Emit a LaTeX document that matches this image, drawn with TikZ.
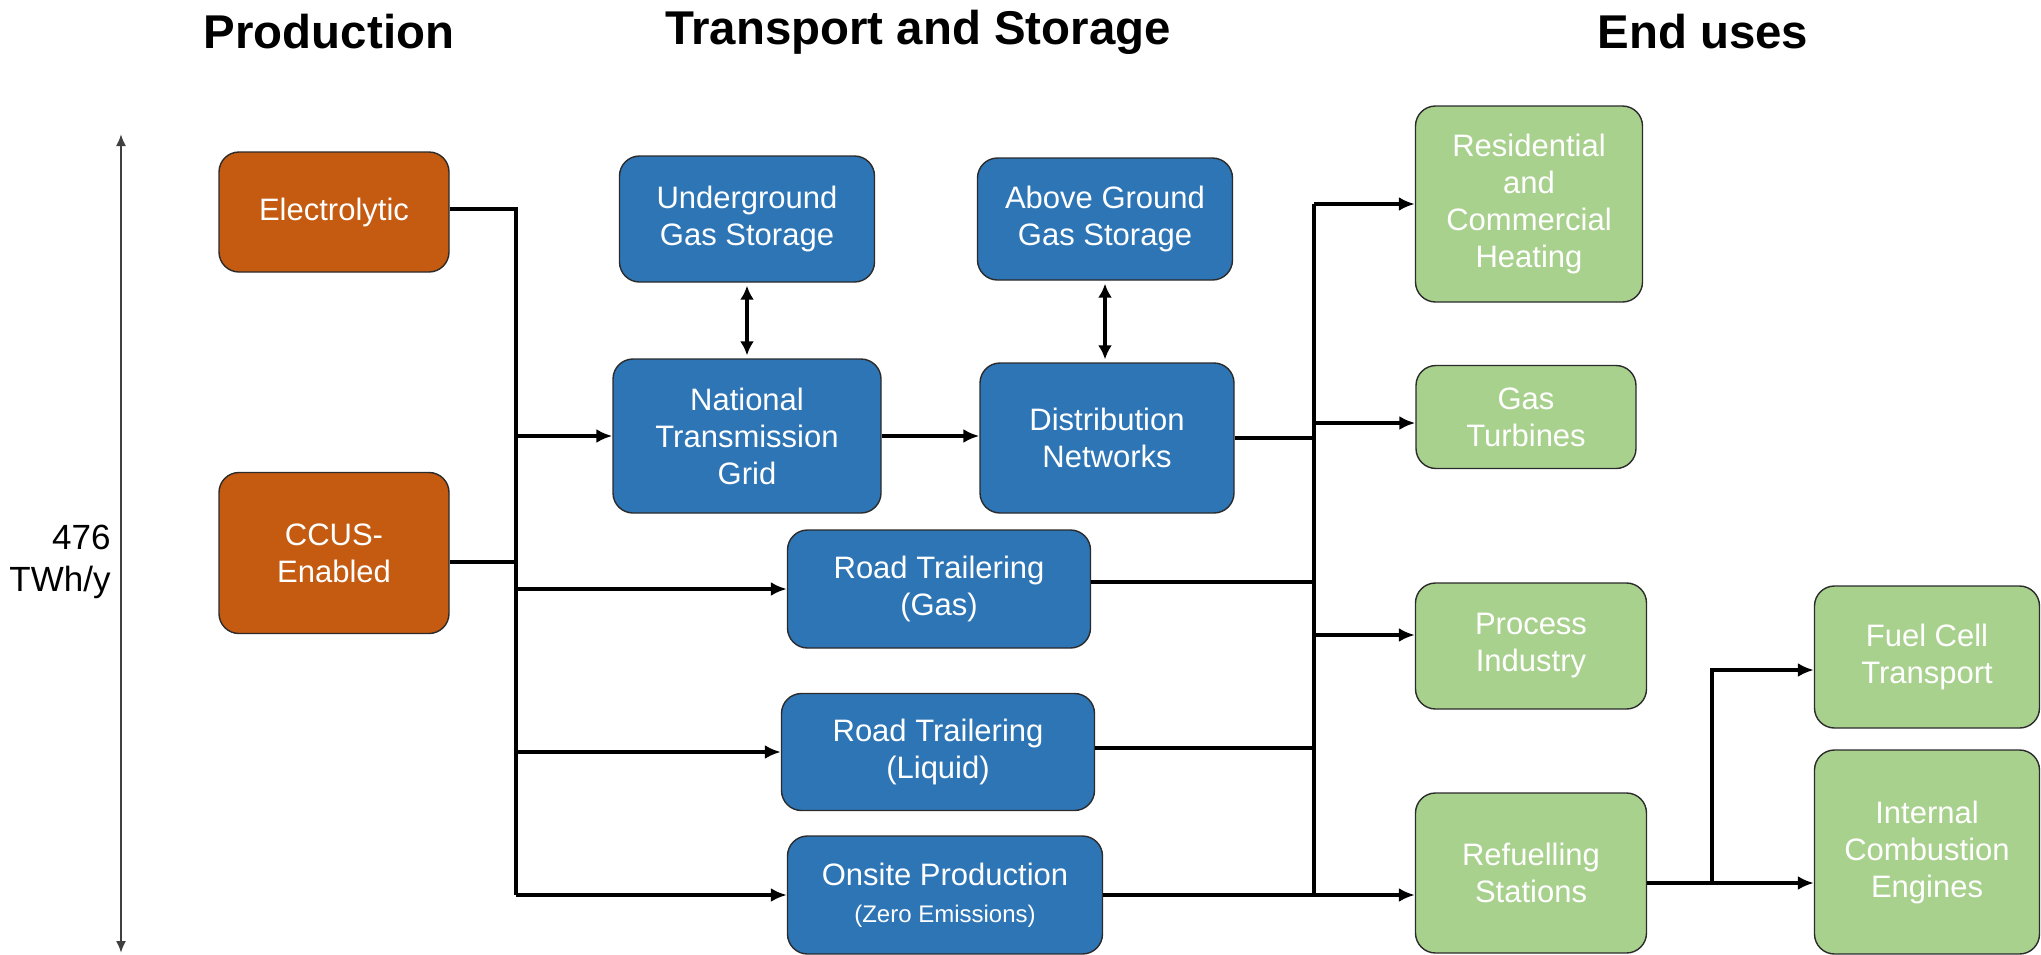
\documentclass[tikz,border=0pt]{standalone}
\usepackage{fontspec}
\setmainfont{Liberation Sans}
\usetikzlibrary{arrows.meta}

\definecolor{prodorange}{HTML}{C55A11}
\definecolor{netblue}{HTML}{2E75B6}
\definecolor{usegreen}{HTML}{A9D18E}
\definecolor{boxline}{HTML}{2B2B2B}

\begin{document}
\begin{tikzpicture}[x=0.5pt, y=-0.5pt,
      basebox/.style={rectangle, rounded corners=10pt, draw=boxline, line width=0.7pt,
        text=white, align=center, inner sep=0pt, font=\fontsize{15.5}{18.5}\selectfont},
      orangebox/.style={basebox, fill=prodorange},
      bluebox/.style={basebox, fill=netblue},
      greenbox/.style={basebox, fill=usegreen},
      heading/.style={font=\fontsize{23.7}{28}\selectfont\bfseries},
      pipe/.style={line width=1.9pt, black},
      flow/.style={pipe, -{Latex[length=8pt,width=7pt]}},
      twoway/.style={pipe, {Latex[length=7pt,width=7pt]}-{Latex[length=7pt,width=7pt]}, shorten >=1.5pt, shorten <=1.5pt}]

    \useasboundingbox (0,0) rectangle (2041,954);

    \node[heading] (hprod) at (329,32) {Production};
    \node[heading] (htrans) at (918,32) {Transport and Storage};
    \node[heading] (huse) at (1703,32) {End uses};

    \coordinate (axtop) at (121,134);
    \coordinate (axbot) at (121,953);
    \draw[line width=1pt, black!75, {Latex[length=6pt,width=5pt]}-{Latex[length=6pt,width=5pt]}] (axtop) -- (axbot);
    \node[anchor=east, align=right, inner sep=0pt, font=\fontsize{17.5}{21}\selectfont] (total) at (111,562) {476\\TWh/y};

    \node[orangebox, minimum width=115pt, minimum height=60pt] (elec) at (334,212) {Electrolytic};
    \node[orangebox, minimum width=115pt, minimum height=80.5pt] (ccus) at (334,553) {CCUS-\\Enabled};

    \node[bluebox, minimum width=127.5pt, minimum height=63pt] (ugs) at (747,219) {Underground\\Gas Storage};
    \node[bluebox, minimum width=127.5pt, minimum height=61pt] (ags) at (1105,219) {Above Ground\\Gas Storage};
    \node[bluebox, minimum width=134pt, minimum height=77pt] (ntg) at (747,436) {National\\Transmission\\Grid};
    \node[bluebox, minimum width=127pt, minimum height=75pt] (dn) at (1107,438) {Distribution\\Networks};
    \node[bluebox, minimum width=151.5pt, minimum height=59pt] (rtg) at (939,589) {Road Trailering\\(Gas)};
    \node[bluebox, minimum width=156.5pt, minimum height=58.5pt] (rtl) at (938,752) {Road Trailering\\(Liquid)};
    \node[bluebox, minimum width=157.5pt, minimum height=59pt] (ons) at (945,895)
      {Onsite Production\\{\fontsize{12}{15}\selectfont(Zero Emissions)}};

    \node[greenbox, minimum width=113.5pt, minimum height=98pt] (res) at (1529,204) {Residential\\and\\Commercial\\Heating};
    \node[greenbox, minimum width=110pt, minimum height=51.5pt] (gt) at (1526,417) {Gas\\Turbines};
    \node[greenbox, minimum width=115.5pt, minimum height=63pt] (pi) at (1531,646) {Process\\Industry};
    \node[greenbox, minimum width=115.5pt, minimum height=80pt] (ref) at (1531,873) {Refuelling\\Stations};
    \node[greenbox, minimum width=112.5pt, minimum height=71pt] (fct) at (1927,657) {Fuel Cell\\Transport};
    \node[greenbox, minimum width=112.5pt, minimum height=102pt] (ice) at (1927,852) {Internal\\Combustion\\Engines};

    \coordinate (lbus) at (516,0);
    \coordinate (rbus) at (1314,0);
    \coordinate (sbus) at (1712,0);

    \draw[pipe] ([yshift=1.5pt]elec.east) -| (lbus |- ons.west);
    \draw[pipe] ([yshift=-4.5pt]ccus.east) -- ([yshift=-4.5pt]ccus.east -| lbus);
    \draw[flow] (lbus |- ntg.west) -- (ntg.west);
    \draw[flow] (lbus |- rtg.west) -- (rtg.west);
    \draw[flow] (lbus |- rtl.west) -- (rtl.west);
    \draw[flow] (lbus |- ons.west) -- (ons.west);

    \draw[twoway] (ugs.south) -- (ntg.north);
    \draw[twoway] (ags.south) -- (ags.south |- dn.north);
    \draw[flow] (ntg.east) -- (ntg.east -| dn.west);

    \draw[pipe] (rbus |- res.west) -- (rbus |- ons.east);
    \draw[pipe] (dn.east) -- (dn.east -| rbus);
    \draw[pipe] ([yshift=3.5pt]rtg.east) -- ([yshift=3.5pt]rtg.east -| rbus);
    \draw[pipe] ([yshift=2pt]rtl.east) -- ([yshift=2pt]rtl.east -| rbus);
    \draw[flow] (ons.east) -- (ons.east -| ref.west);
    \draw[flow] (rbus |- res.west) -- (res.west);
    \draw[flow] ([yshift=-3pt]gt.west -| rbus) -- ([yshift=-3pt]gt.west);
    \draw[flow] ([yshift=5.5pt]pi.west -| rbus) -- ([yshift=5.5pt]pi.west);

    \draw[flow] ([yshift=-5pt]ref.east) -- ([yshift=-5pt]ref.east -| ice.west);
    \draw[flow] ([yshift=-5pt]ref.east -| sbus) |- ([yshift=-6.5pt]fct.west);

  \end{tikzpicture}
\end{document}
